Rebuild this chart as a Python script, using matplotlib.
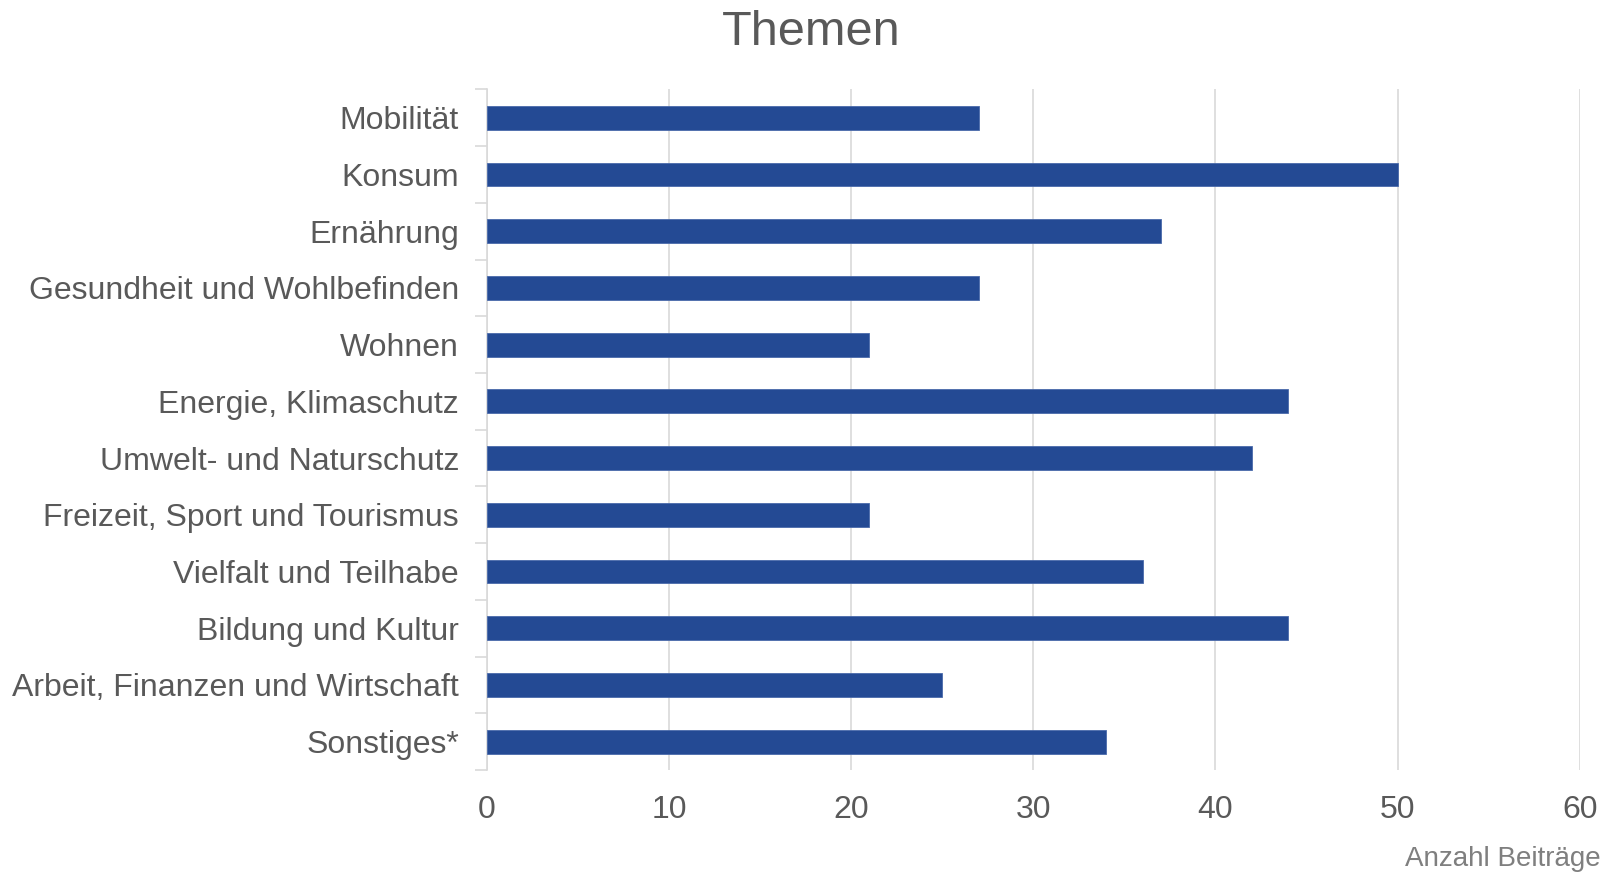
import numpy as np
import matplotlib.pyplot as plt

plt.rcParams['font.family'] = ['Liberation Sans', 'DejaVu Sans']

themen = [
    "Mobilität",
    "Konsum",
    "Ernährung",
    "Gesundheit und Wohlbefinden",
    "Wohnen",
    "Energie, Klimaschutz",
    "Umwelt- und Naturschutz",
    "Freizeit, Sport und Tourismus",
    "Vielfalt und Teilhabe",
    "Bildung und Kultur",
    "Arbeit, Finanzen und Wirtschaft",
    "Sonstiges*",
]
beitraege = [27, 50, 37, 27, 21, 44, 42, 21, 36, 44, 25, 34]
x_ticks = [0, 10, 20, 30, 40, 50, 60]

fig = plt.figure(figsize=(16.12, 8.76), dpi=100)
ax = fig.add_axes([0.302, 0.121, 0.678, 0.777])

y = np.arange(len(themen))
ax.barh(y, beitraege, height=0.42, color="#244a94", edgecolor="#4a6aaa",
        linewidth=0.6, zorder=3)

ax.set_ylim(len(themen) - 0.5, -0.5)
ax.set_xlim(0, 60)
ax.set_xticks(x_ticks)
ax.set_yticks(y)
ax.set_yticklabels(themen)
ax.set_yticks(np.arange(len(themen) + 1) - 0.5, minor=True)

ax.tick_params(axis="y", which="major", length=0, pad=20, labelsize=23,
               labelcolor="#595959")
ax.tick_params(axis="y", which="minor", length=9, width=1.2, color="#d9d9d9")
ax.tick_params(axis="x", length=0, pad=18, labelsize=23, labelcolor="#595959")

ax.grid(axis="x", color="#d9d9d9", linewidth=1.2, zorder=0)
for side in ["top", "right", "bottom"]:
    ax.spines[side].set_visible(False)
ax.spines["left"].set_color("#d9d9d9")
ax.spines["left"].set_linewidth(1.2)

fig.text(0.503, 0.963, "Themen", ha="center", va="center", fontsize=35,
         color="#595959")
fig.text(0.993, 0.019, "Anzahl Beiträge", ha="right", va="center",
         fontsize=20, color="#7f7f7f")

fig.savefig("out.png", dpi=100)
